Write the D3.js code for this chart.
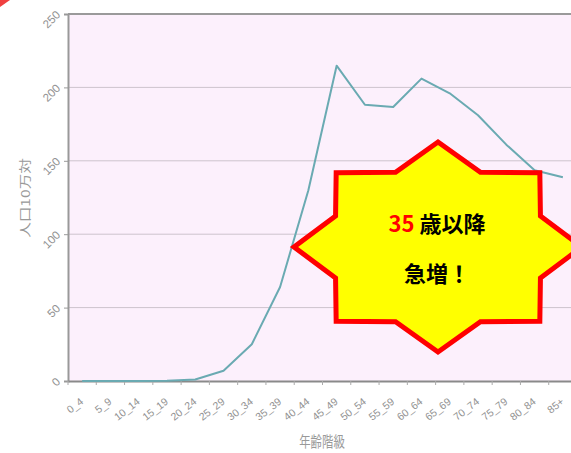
<!DOCTYPE html>
<html><head><meta charset="utf-8">
<script src="https://cdn.jsdelivr.net/npm/d3@7"></script>
<style>body{margin:0;background:#fff;}svg{display:block;}</style>
</head><body>
<script>
const categories = ["0_4","5_9","10_14","15_19","20_24","25_29","30_34","35_39","40_44","45_49","50_54","55_59","60_64","65_69","70_74","75_79","80_84","85+"];
const values = [0,0,0,0.2,1,7,25,64,130,214.8,188.2,186.6,206,196,181,161,143.5,138.8];
const yTicks = [0,50,100,150,200,250];
const yTitle = "人口10万対";
const xTitle = "年齢階級";

(function(){
const W = 571, H = 453;
const svg = d3.select("body").append("svg").attr("width", W).attr("height", H);
const pL = 68, pR = 577, pT = 14, pB = 381;

const x = d3.scaleBand().domain(categories).range([pL, pR]);
const y = d3.scaleLinear().domain([0, 250]).range([pB, pT]);

// corner mark
svg.append("path").attr("d","M0,0 L10,0 L0,7 Z").attr("fill","#f04040");

// plot background
svg.append("rect").attr("x", pL).attr("y", pT).attr("width", pR-pL).attr("height", pB-pT).attr("fill", "#fcf0fc");

// gridlines
svg.append("g").selectAll("line").data(yTicks.filter(d=>d>0 && d<250)).join("line")
  .attr("x1", pL).attr("x2", pR).attr("y1", d=>y(d)).attr("y2", d=>y(d))
  .attr("stroke", "#cdc3cd").attr("stroke-width", 1);

// top border
svg.append("line").attr("x1", pL).attr("x2", pR).attr("y1", y(250)).attr("y2", y(250)).attr("stroke", "#9a9a9a").attr("stroke-width", 2);

// y axis
const yAxis = d3.axisLeft(y).tickValues(yTicks).tickSize(4).tickFormat(d3.format("d"));
const gy = svg.append("g").attr("transform", `translate(${pL},0)`).call(yAxis);
gy.select(".domain").attr("stroke", "#999").attr("stroke-width", 2);
gy.selectAll(".tick line").attr("stroke", "#999");
gy.selectAll(".tick text").attr("fill", "#929292").attr("font-family", "Liberation Sans, Arial, sans-serif").attr("font-size", 11.5)
  .attr("text-anchor", "end").attr("x", 0).attr("dy", 0)
  .attr("transform", "translate(-7,1) rotate(-45)");

// x axis
const xAxis = d3.axisBottom(x).tickSize(4).tickSizeOuter(0);
const gx = svg.append("g").attr("transform", `translate(0,${pB})`).call(xAxis);
gx.select(".domain").attr("stroke", "#8a8a8a").attr("stroke-width", 2);
gx.selectAll(".tick line").attr("stroke", "#aaa").attr("transform", `translate(${-x.step()/2},0)`);
gx.selectAll(".tick text").attr("fill", "#929292").attr("font-family", "Liberation Sans, Arial, sans-serif").attr("font-size", 10.5)
  .attr("text-anchor", "end").attr("y", 0).attr("dy", 0)
  .attr("transform", "translate(2,22) rotate(-38)");

// line
const line = d3.line().x((d,i)=>x(categories[i]) + x.bandwidth()/2).y(d=>y(d));
svg.append("path").datum(values).attr("d", line).attr("fill", "none")
  .attr("stroke", "#6aaab2").attr("stroke-width", 2).attr("stroke-linejoin", "round");

// axis titles
svg.append("text").attr("transform", "translate(30,198) rotate(-90) scale(1.3,1)")
  .attr("text-anchor", "middle").attr("fill", "#999").attr("font-size", 12)
  .attr("font-family", "Noto Sans CJK JP, sans-serif").text(yTitle);
svg.append("text").attr("transform", "translate(322,447) scale(0.95,1.25)")
  .attr("text-anchor", "middle").attr("fill", "#999").attr("font-size", 12)
  .attr("font-family", "Noto Sans CJK JP, sans-serif").text(xTitle);

// star annotation
const cx = 438, cy = 247, rx = 144, ry = 105, inner = 0.77;
const pts = d3.range(16).map(k => {
  const a = (-90 + k*22.5) * Math.PI/180;
  const r = k % 2 === 0 ? 1 : inner;
  return [cx + rx*r*Math.cos(a), cy + ry*r*Math.sin(a)];
});
svg.append("polygon").attr("points", pts.map(p=>p.join(",")).join(" "))
  .attr("fill", "#ffff00").attr("stroke", "#ff0000").attr("stroke-width", 5).attr("stroke-linejoin", "miter");

const t1 = svg.append("text").attr("x", 437).attr("y", 232).attr("text-anchor", "middle")
  .attr("font-size", 22).attr("font-weight", "bold").attr("font-family", "Noto Sans CJK JP, sans-serif");
t1.append("tspan").attr("fill", "#ff0000").text("35");
t1.append("tspan").attr("fill", "#000").text(" 歳以降");
svg.append("text").attr("x", 437).attr("y", 282).attr("text-anchor", "middle")
  .attr("font-size", 22).attr("font-weight", "bold").attr("font-family", "Noto Sans CJK JP, sans-serif")
  .attr("fill", "#000").text("急増！");
})();
</script>
</body></html>
